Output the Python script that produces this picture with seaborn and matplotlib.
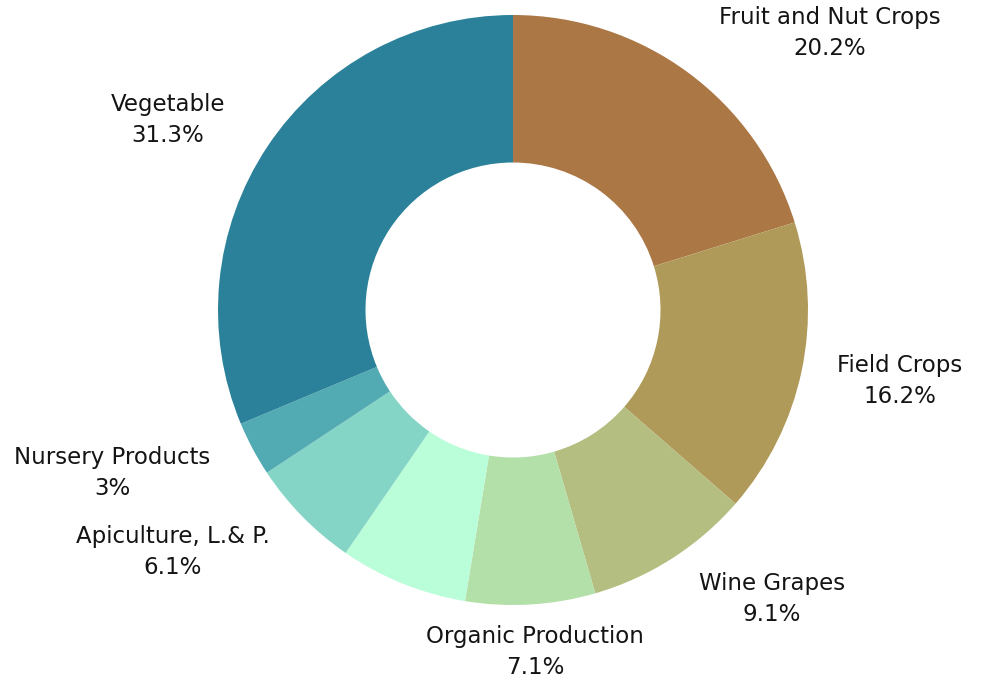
import matplotlib
matplotlib.use("Agg")
import matplotlib.pyplot as plt
import seaborn as sns

# Donnees (sens horaire depuis le haut)
categories = ["Fruit and Nut Crops", "Field Crops", "Wine Grapes", "Organic Production",
              "", "Apiculture, L.& P.", "Nursery Products", "Vegetable"]
shares = [20.2, 16.2, 9.1, 7.1, 7.0, 6.1, 3.0, 31.3]
share_labels = ["20.2%", "16.2%", "9.1%", "7.1%", "", "6.1%", "3%", "31.3%"]

colors = ["#AB7745", "#B09A5A", "#B3BE80", "#B3DFA8",
          "#BAFDD9", "#84D5C5", "#52ABB3", "#2B8199"]

# Position des etiquettes (pixels de l'image, centre du bloc de texte)
label_px = [(830, 33), (900, 381), (772, 599), (535, 652),
            None, (173, 552), (112, 473), (168, 120)]

sns.set_theme(style="white")
plt.rcParams["font.family"] = ["DejaVu Sans"]

W, H = 997, 681
cx, cy, R = 513, 310, 295

fig = plt.figure(figsize=(W / 100, H / 100), dpi=100)
ax = fig.add_axes([0, 0, 1, 1])
ax.pie(shares, colors=colors, startangle=90, counterclock=False,
       radius=1, wedgeprops=dict(width=0.5, linewidth=0))
ax.set_xlim(-cx / R, (W - cx) / R)
ax.set_ylim(-(H - cy) / R, cy / R)
ax.set_aspect("equal")
ax.axis("off")

for name, pct, pos in zip(categories, share_labels, label_px):
    if pos is None:
        continue
    x = (pos[0] - cx) / R
    y = (cy - pos[1]) / R
    ax.text(x, y + 0.052, name, ha="center", va="center", fontsize=16.5,
            color="#141414")
    ax.text(x, y - 0.052, pct, ha="center", va="center", fontsize=16.5,
            color="#141414")

fig.savefig("out.png", dpi=100)
